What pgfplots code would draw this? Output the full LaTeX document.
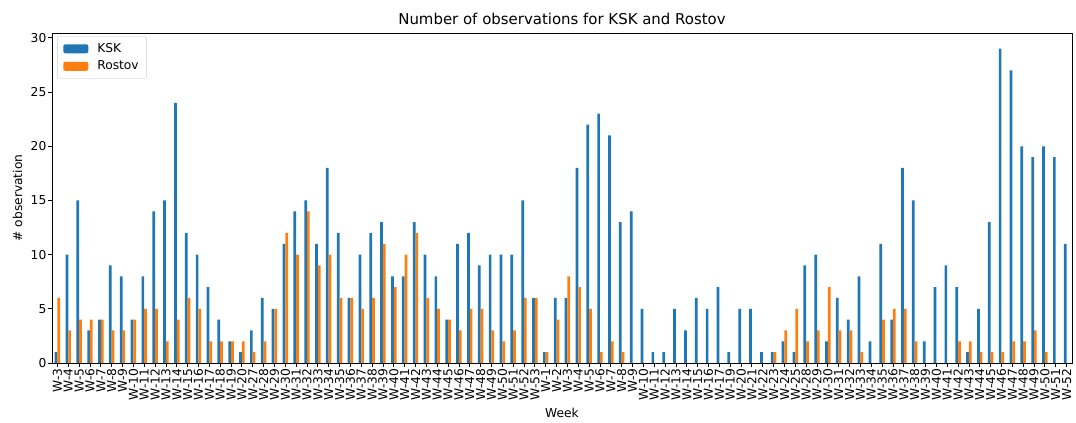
\documentclass[border=0pt]{standalone}
\usepackage{pgfplots}
\usepackage{pgfplotstable}
\pgfplotsset{compat=1.18}
\usepackage{fontspec}
\setmainfont{DejaVu Sans}

\definecolor{kskblue}{HTML}{1F77B4}
\definecolor{rostovorange}{HTML}{FF7F0E}

% weekly observation counts
\pgfplotstableread{
idx week ksk rostov
0 W-3 1 6
1 W-4 10 3
2 W-5 15 4
3 W-6 3 4
4 W-7 4 4
5 W-8 9 3
6 W-9 8 3
7 W-10 4 4
8 W-11 8 5
9 W-12 14 5
10 W-13 15 2
11 W-14 24 4
12 W-15 12 6
13 W-16 10 5
14 W-17 7 2
15 W-18 4 2
16 W-19 2 2
17 W-20 1 2
18 W-27 3 1
19 W-28 6 2
20 W-29 5 5
21 W-30 11 12
22 W-31 14 10
23 W-32 15 14
24 W-33 11 9
25 W-34 18 10
26 W-35 12 6
27 W-36 6 6
28 W-37 10 5
29 W-38 12 6
30 W-39 13 11
31 W-40 8 7
32 W-41 8 10
33 W-42 13 12
34 W-43 10 6
35 W-44 8 5
36 W-45 4 4
37 W-46 11 3
38 W-47 12 5
39 W-48 9 5
40 W-49 10 3
41 W-50 10 2
42 W-51 10 3
43 W-52 15 6
44 W-53 6 6
45 W-1 1 1
46 W-2 6 4
47 W-3 6 8
48 W-4 18 7
49 W-5 22 5
50 W-6 23 1
51 W-7 21 2
52 W-8 13 1
53 W-9 14 0
54 W-10 5 0
55 W-11 1 0
56 W-12 1 0
57 W-13 5 0
58 W-14 3 0
59 W-15 6 0
60 W-16 5 0
61 W-17 7 0
62 W-19 1 0
63 W-20 5 0
64 W-21 5 0
65 W-22 1 0
66 W-23 1 1
67 W-24 2 3
68 W-25 1 5
69 W-28 9 2
70 W-29 10 3
71 W-30 2 7
72 W-31 6 3
73 W-32 4 3
74 W-33 8 1
75 W-34 2 0
76 W-35 11 4
77 W-36 4 5
78 W-37 18 5
79 W-38 15 2
80 W-39 2 0
81 W-40 7 0
82 W-41 9 0
83 W-42 7 2
84 W-43 1 2
85 W-44 5 1
86 W-45 13 1
87 W-46 29 1
88 W-47 27 2
89 W-48 20 2
90 W-49 19 3
91 W-50 20 1
92 W-51 19 0
93 W-52 11 0
}\data

\begin{document}
\begin{tikzpicture}
\begin{axis}[
  scale only axis,
  width=1020bp, height=330bp,
  xmin=-0.5, xmax=93.5,
  ymin=0, ymax=30.45,
  xtick={0,...,93},
  xticklabels from table={\data}{week},
  ytick={0,5,...,30},
  xtick pos=bottom, ytick pos=left,
  tick align=outside,
  major tick length=3.5bp,
  tick style={black, line width=0.8bp},
  axis line style={black, line width=0.8bp},
  /pgf/number format/assume math mode=true,
  ticklabel style={font=\fontsize{12.3}{14}\selectfont},
  xticklabel style={rotate=90, anchor=east, inner sep=2bp},
  yticklabel style={inner sep=2bp},
  xlabel={Week},
  ylabel={\# observation},
  label style={font=\fontsize{12.3}{14}\selectfont},
  xlabel style={yshift=-2bp},
  ylabel style={yshift=3bp},
  title={Number of observations for KSK and Rostov},
  title style={font=\fontsize{15}{17}\selectfont, yshift=-1bp},
  legend style={
    at={(0.005,0.99)}, anchor=north west,
    draw={rgb,1:red,0.8;green,0.8;blue,0.8}, rounded corners=2bp,
    font=\fontsize{12.3}{14}\selectfont,
    row sep=3bp, inner xsep=6bp, inner ysep=5bp,
  },
  legend cell align=left,
  legend image code/.code={\fill[#1] (0bp,-4.5bp) rectangle (25bp,4.5bp);
    \path (32bp,0bp);},
]
\addplot[ybar, bar width=0.25, bar shift=-0.125, fill=kskblue, draw=none]
  table[x=idx, y=ksk]{\data};
\addlegendentry{KSK}
\addplot[ybar, bar width=0.25, bar shift=0.125, fill=rostovorange, draw=none]
  table[x=idx, y=rostov]{\data};
\addlegendentry{Rostov}
\end{axis}
\pgfresetboundingbox
\path (current axis.south west) ++(-52bp,-60bp) rectangle
      ([shift={(4bp,33bp)}]current axis.north east);
\end{tikzpicture}
\end{document}
